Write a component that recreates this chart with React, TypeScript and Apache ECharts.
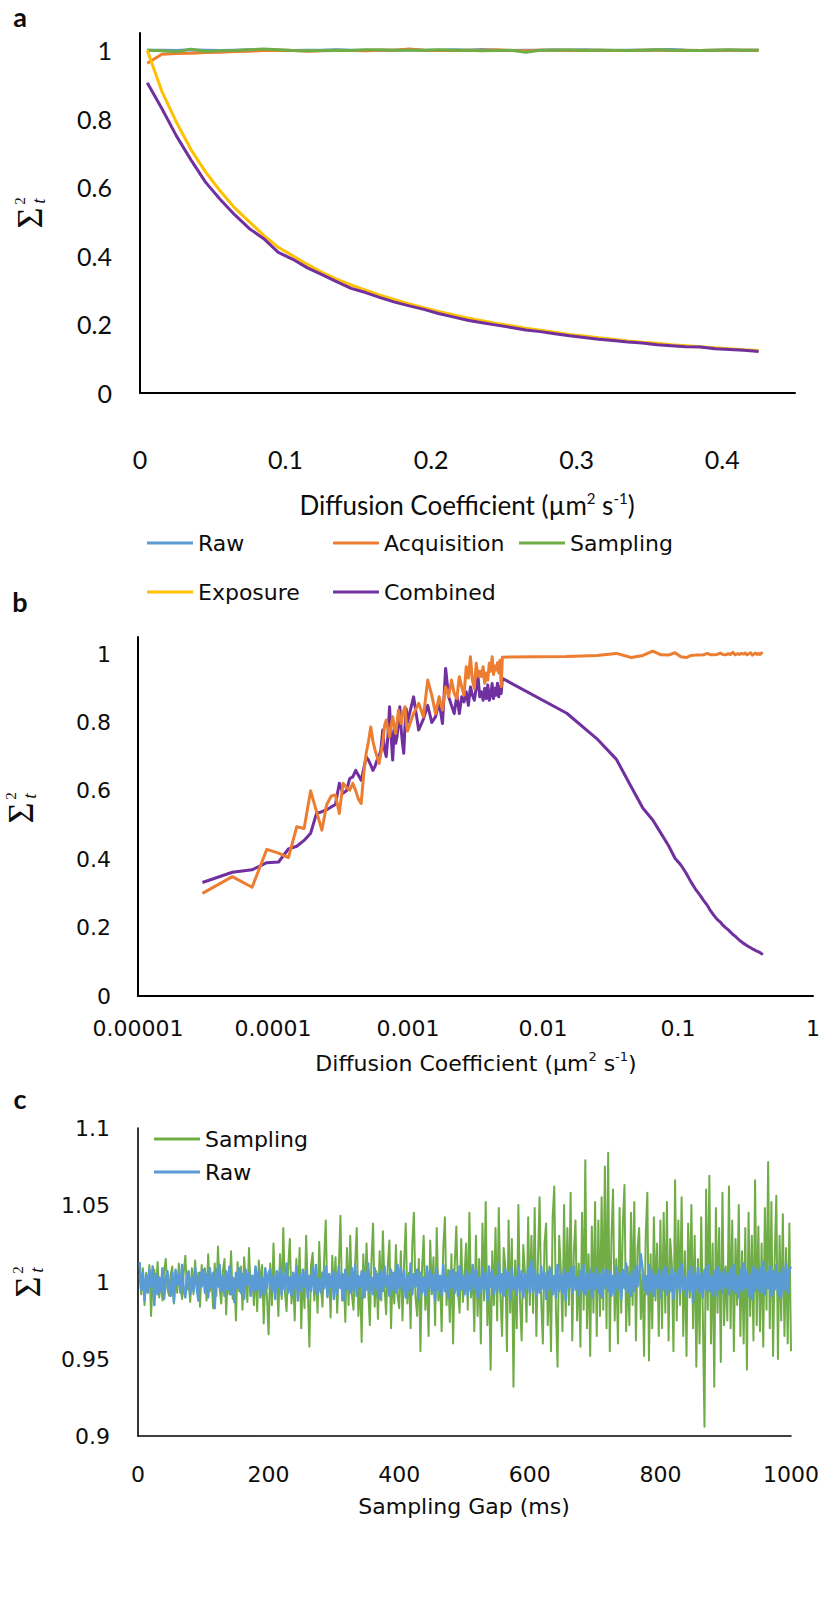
import React, { useEffect, useRef } from "react";
import * as echarts from "echarts";

// ---------------- Panel a ----------------
const DIFF_A = [0.005, 0.015, 0.025, 0.035, 0.045, 0.055, 0.065, 0.075, 0.085, 0.095, 0.105, 0.115, 0.125, 0.135, 0.145, 0.155, 0.165, 0.175, 0.185, 0.195, 0.205, 0.215, 0.225, 0.235, 0.245, 0.255, 0.265, 0.275, 0.285, 0.295, 0.305, 0.315, 0.325, 0.335, 0.345, 0.355, 0.365, 0.375, 0.385, 0.395, 0.405, 0.415, 0.425];
const RAW_A = [1.000, 1.000, 0.999, 1.001, 1.000, 0.999, 1.000, 1.001, 1.000, 1.000, 0.999, 1.000, 1.000, 1.001, 1.000, 1.000, 0.999, 1.000, 1.001, 1.000, 1.000, 1.001, 1.000, 1.002, 1.000, 0.999, 1.000, 1.000, 1.001, 1.000, 1.001, 1.000, 0.999, 1.000, 1.000, 1.001, 1.002, 1.000, 0.999, 1.000, 1.000, 1.000, 1.000];
const ACQ_A = [0.962, 0.988, 0.990, 0.991, 0.993, 0.994, 0.996, 0.997, 0.999, 1.000, 0.999, 0.997, 0.998, 0.999, 0.999, 0.998, 1.000, 1.000, 1.003, 1.000, 0.999, 0.999, 1.000, 1.000, 1.001, 0.999, 0.998, 1.000, 1.000, 0.999, 1.000, 1.000, 0.999, 0.999, 1.000, 1.000, 0.999, 1.000, 0.999, 1.000, 1.000, 1.000, 1.000];
const SAMP_A = [1.000, 0.998, 0.995, 1.003, 0.996, 0.998, 0.999, 1.001, 1.003, 1.001, 0.999, 0.998, 0.999, 1.000, 0.999, 1.001, 1.001, 1.000, 1.000, 1.000, 1.001, 1.000, 1.000, 0.998, 0.999, 1.000, 0.994, 1.000, 1.000, 1.001, 0.999, 1.000, 1.000, 0.999, 1.000, 1.001, 1.000, 0.999, 0.999, 1.000, 1.001, 1.000, 1.000];
const EXPO_A = [1.000, 0.880, 0.790, 0.710, 0.645, 0.590, 0.540, 0.500, 0.460, 0.425, 0.400, 0.375, 0.352, 0.332, 0.315, 0.300, 0.285, 0.272, 0.260, 0.249, 0.238, 0.228, 0.219, 0.211, 0.203, 0.196, 0.189, 0.183, 0.177, 0.171, 0.166, 0.161, 0.157, 0.152, 0.148, 0.145, 0.141, 0.138, 0.135, 0.132, 0.129, 0.126, 0.124];
const COMB_A = [0.905, 0.830, 0.750, 0.680, 0.615, 0.565, 0.520, 0.480, 0.450, 0.410, 0.390, 0.365, 0.345, 0.325, 0.305, 0.293, 0.278, 0.265, 0.254, 0.244, 0.232, 0.222, 0.212, 0.205, 0.198, 0.191, 0.184, 0.179, 0.173, 0.167, 0.162, 0.157, 0.153, 0.149, 0.146, 0.141, 0.138, 0.135, 0.134, 0.129, 0.127, 0.125, 0.121];

// ---------------- Panel b ----------------
const DIFF_B_LOW = [0.00003, 0.00005, 0.00007, 0.00009, 0.00011, 0.00013, 0.00015, 0.00017, 0.00019, 0.00021, 0.00023, 0.00025, 0.00027, 0.00029, 0.00031, 0.00033, 0.00035, 0.00037, 0.00039, 0.00041, 0.00043, 0.00045, 0.00047, 0.00049, 0.00051, 0.00053, 0.00055, 0.00057, 0.00059, 0.00061, 0.00063, 0.00065, 0.00067, 0.00069, 0.00071, 0.00073, 0.00075, 0.00077, 0.00079, 0.00081, 0.00083, 0.00085, 0.00087, 0.00089, 0.00091, 0.00093, 0.00095, 0.00097, 0.00099,
  0.0011, 0.0012, 0.0013, 0.0014, 0.0015, 0.0016, 0.0017, 0.0018, 0.0019, 0.0020, 0.0021, 0.0022, 0.0023, 0.0024, 0.0025, 0.0026, 0.0027, 0.0028, 0.0029, 0.0030, 0.0031, 0.0032, 0.0033, 0.0034, 0.0035, 0.0036, 0.0037, 0.0038, 0.0039, 0.0040, 0.0041, 0.0042, 0.0043, 0.0044, 0.0045, 0.0046, 0.0047, 0.0048, 0.0049];
const DIFF_B_HIGH = [0.005, 0.015, 0.025, 0.035, 0.045, 0.055, 0.065, 0.075, 0.085, 0.095, 0.105, 0.115, 0.125, 0.135, 0.145, 0.155, 0.165, 0.175, 0.185, 0.195, 0.205, 0.215, 0.225, 0.235, 0.245, 0.255, 0.265, 0.275, 0.285, 0.295, 0.305, 0.315, 0.325, 0.335, 0.345, 0.355, 0.365, 0.375, 0.385, 0.395, 0.405, 0.415, 0.425];
const ACQ_B_LOW = [0.300, 0.349, 0.318, 0.429, 0.418, 0.405, 0.495, 0.490, 0.600, 0.540,
  0.485, 0.560, 0.585, 0.588, 0.534, 0.622, 0.610, 0.602, 0.622, 0.600,
  0.575, 0.563, 0.650, 0.709, 0.745, 0.787, 0.745, 0.719, 0.700, 0.680,
  0.710, 0.739, 0.790, 0.807, 0.780, 0.758, 0.790, 0.817, 0.790, 0.768,
  0.800, 0.836, 0.815, 0.797, 0.820, 0.835, 0.846, 0.800, 0.775, 0.826,
  0.856, 0.817, 0.924, 0.880, 0.826, 0.875, 0.836, 0.904, 0.875, 0.924,
  0.885, 0.870, 0.934, 0.904, 0.880, 0.963, 0.930, 0.992, 0.924, 0.900,
  0.973, 0.935, 0.950, 0.934, 0.963, 0.915, 0.945, 0.924, 0.973, 0.950,
  0.992, 0.940, 0.965, 0.953, 0.975, 0.945, 0.982, 0.905];
const ACQ_B_HIGH = [0.991, 0.993, 0.996, 1.002, 0.990, 0.996, 1.009, 0.998, 0.997, 1.004, 0.992, 0.990, 0.996, 0.997, 0.997, 0.998, 1.002, 0.998, 0.998, 0.999, 1.003, 0.999, 0.998, 1.001, 0.999, 1.005, 0.998, 1.001, 0.999, 1.002, 1.000, 1.003, 0.998, 1.001, 1.004, 0.997, 1.000, 1.003, 0.999, 1.002, 0.999, 1.003, 1.002];
const COMB_B_LOW = [0.332, 0.362, 0.369, 0.390, 0.392, 0.430, 0.438, 0.455, 0.476, 0.534,
  0.539, 0.545, 0.553, 0.560, 0.622, 0.593, 0.600, 0.636, 0.641, 0.660,
  0.645, 0.631, 0.665, 0.699, 0.690, 0.675, 0.660, 0.672, 0.690, 0.700,
  0.720, 0.778, 0.720, 0.700, 0.760, 0.846, 0.760, 0.690, 0.778, 0.739,
  0.760, 0.800, 0.846, 0.780, 0.740, 0.710, 0.790, 0.840, 0.800, 0.875,
  0.778, 0.810, 0.850, 0.800, 0.817, 0.860, 0.797, 0.958, 0.875, 0.850,
  0.826, 0.880, 0.826, 0.875, 0.860, 0.890, 0.850, 0.904, 0.880, 0.865,
  0.900, 0.934, 0.875, 0.890, 0.865, 0.900, 0.870, 0.910, 0.865, 0.880,
  0.914, 0.870, 0.900, 0.880, 0.915, 0.875, 0.905, 0.885];
const COMB_B_HIGH = [0.929, 0.827, 0.753, 0.692, 0.612, 0.549, 0.515, 0.475, 0.440, 0.403, 0.383, 0.359, 0.333, 0.312, 0.296, 0.279, 0.265, 0.248, 0.235, 0.224, 0.217, 0.207, 0.200, 0.194, 0.187, 0.180, 0.175, 0.169, 0.163, 0.159, 0.154, 0.151, 0.147, 0.144, 0.141, 0.138, 0.136, 0.133, 0.131, 0.129, 0.127, 0.124, 0.121];
const LOG_TICK_LABELS = ["0.00001", "0.0001", "0.001", "0.01", "0.1", "1"];

// ---------------- Panel c ----------------
const GAP_MS = [2.5, 5, 7.5, 10, 12.5, 15, 17.5, 20, 22.5, 25, 27.5, 30, 32.5, 35, 37.5, 40, 42.5, 45, 47.5, 50, 52.5, 55, 57.5, 60, 62.5, 65, 67.5, 70, 72.5, 75, 77.5, 80, 82.5, 85, 87.5, 90, 92.5, 95, 97.5, 100,
  102.5, 105, 107.5, 110, 112.5, 115, 117.5, 120, 122.5, 125, 127.5, 130, 132.5, 135, 137.5, 140, 142.5, 145, 147.5, 150, 152.5, 155, 157.5, 160, 162.5, 165, 167.5, 170, 172.5, 175, 177.5, 180, 182.5, 185, 187.5, 190, 192.5, 195, 197.5, 200,
  202.5, 205, 207.5, 210, 212.5, 215, 217.5, 220, 222.5, 225, 227.5, 230, 232.5, 235, 237.5, 240, 242.5, 245, 247.5, 250, 252.5, 255, 257.5, 260, 262.5, 265, 267.5, 270, 272.5, 275, 277.5, 280, 282.5, 285, 287.5, 290, 292.5, 295, 297.5, 300,
  302.5, 305, 307.5, 310, 312.5, 315, 317.5, 320, 322.5, 325, 327.5, 330, 332.5, 335, 337.5, 340, 342.5, 345, 347.5, 350, 352.5, 355, 357.5, 360, 362.5, 365, 367.5, 370, 372.5, 375, 377.5, 380, 382.5, 385, 387.5, 390, 392.5, 395, 397.5, 400,
  402.5, 405, 407.5, 410, 412.5, 415, 417.5, 420, 422.5, 425, 427.5, 430, 432.5, 435, 437.5, 440, 442.5, 445, 447.5, 450, 452.5, 455, 457.5, 460, 462.5, 465, 467.5, 470, 472.5, 475, 477.5, 480, 482.5, 485, 487.5, 490, 492.5, 495, 497.5, 500,
  502.5, 505, 507.5, 510, 512.5, 515, 517.5, 520, 522.5, 525, 527.5, 530, 532.5, 535, 537.5, 540, 542.5, 545, 547.5, 550, 552.5, 555, 557.5, 560, 562.5, 565, 567.5, 570, 572.5, 575, 577.5, 580, 582.5, 585, 587.5, 590, 592.5, 595, 597.5, 600,
  602.5, 605, 607.5, 610, 612.5, 615, 617.5, 620, 622.5, 625, 627.5, 630, 632.5, 635, 637.5, 640, 642.5, 645, 647.5, 650, 652.5, 655, 657.5, 660, 662.5, 665, 667.5, 670, 672.5, 675, 677.5, 680, 682.5, 685, 687.5, 690, 692.5, 695, 697.5, 700,
  702.5, 705, 707.5, 710, 712.5, 715, 717.5, 720, 722.5, 725, 727.5, 730, 732.5, 735, 737.5, 740, 742.5, 745, 747.5, 750, 752.5, 755, 757.5, 760, 762.5, 765, 767.5, 770, 772.5, 775, 777.5, 780, 782.5, 785, 787.5, 790, 792.5, 795, 797.5, 800,
  802.5, 805, 807.5, 810, 812.5, 815, 817.5, 820, 822.5, 825, 827.5, 830, 832.5, 835, 837.5, 840, 842.5, 845, 847.5, 850, 852.5, 855, 857.5, 860, 862.5, 865, 867.5, 870, 872.5, 875, 877.5, 880, 882.5, 885, 887.5, 890, 892.5, 895, 897.5, 900,
  902.5, 905, 907.5, 910, 912.5, 915, 917.5, 920, 922.5, 925, 927.5, 930, 932.5, 935, 937.5, 940, 942.5, 945, 947.5, 950, 952.5, 955, 957.5, 960, 962.5, 965, 967.5, 970, 972.5, 975, 977.5, 980, 982.5, 985, 987.5, 990, 992.5, 995, 997.5, 1000];
const SAMP_C = [
  1.004, 0.992, 1.009, 0.985, 1.006, 0.997, 1.011, 0.978, 1.002, 1.008, 0.994, 1.013, 0.990, 1.001, 0.988, 1.007, 1.015, 0.996, 0.991, 1.005, 1.010, 0.986, 1.003, 0.993, 1.012, 0.998, 0.989, 1.006, 1.017, 0.995, 1.000, 0.987, 1.009, 0.992, 1.014, 0.997, 1.006, 0.984, 1.011, 0.999,
  1.009, 0.988, 1.018, 0.994, 1.003, 0.983, 1.012, 0.991, 1.023, 0.996, 0.986, 1.007, 1.015, 0.979, 1.005, 0.992, 1.020, 0.989, 1.002, 0.975, 1.013, 0.994, 1.010, 0.982, 1.016, 1.001, 0.987, 1.022, 0.993, 1.004, 0.985, 1.009, 0.981, 1.014, 0.997, 1.011, 0.973, 1.006, 0.990, 0.966,
  1.012, 0.985, 1.025, 0.992, 1.004, 0.978, 1.018, 0.989, 1.035, 0.994, 0.981, 1.010, 1.028, 0.986, 1.003, 0.975, 1.015, 0.991, 1.022, 0.970, 1.008, 0.983, 1.030, 0.995, 0.958, 1.011, 1.019, 0.988, 1.006, 0.980, 1.026, 0.997, 0.984, 1.014, 1.040, 0.990, 1.005, 0.977, 1.017, 0.993,
  1.016, 0.980, 1.009, 1.043, 0.988, 1.005, 0.974, 1.022, 0.985, 1.030, 0.992, 0.982, 1.012, 1.035, 0.978, 1.003, 0.961, 1.018, 0.990, 1.025, 0.995, 0.972, 1.014, 1.038, 0.984, 1.007, 0.976, 1.020, 0.988, 1.033, 0.997, 0.979, 1.010, 1.027, 0.970, 1.006, 0.986, 1.024, 0.991, 0.983,
  1.020, 0.975, 1.012, 1.038, 0.986, 1.006, 0.970, 1.024, 1.045, 0.990, 0.978, 1.015, 0.955, 1.009, 1.030, 0.982, 1.004, 0.965, 1.027, 0.992, 1.016, 0.972, 1.035, 0.988, 1.002, 0.968, 1.022, 1.042, 0.985, 1.008, 0.974, 1.018, 0.960, 1.011, 1.036, 0.994, 0.980, 1.028, 0.987, 1.005,
  1.025, 0.982, 1.045, 0.990, 1.008, 0.968, 1.030, 0.978, 1.015, 0.960, 1.038, 0.988, 1.052, 0.972, 1.005, 0.943, 1.020, 0.985, 1.035, 0.975, 1.048, 0.992, 0.965, 1.022, 1.010, 0.955, 1.040, 0.980, 1.028, 0.932, 1.014, 0.970, 1.050, 0.988, 0.962, 1.024, 1.006, 0.974, 1.042, 0.985,
  1.030, 0.980, 1.048, 0.965, 1.015, 1.055, 0.988, 0.960, 1.025, 1.038, 0.972, 1.010, 0.955, 1.042, 1.062, 0.982, 0.945, 1.030, 1.008, 0.968, 1.050, 0.978, 1.035, 0.985, 1.058, 0.962, 1.020, 1.040, 0.975, 1.012, 0.958, 1.045, 0.982, 1.079, 0.970, 1.018, 0.952, 1.036, 0.980, 1.052,
  0.965, 1.040, 0.978, 1.055, 0.982, 1.075, 0.970, 1.084, 0.955, 1.028, 1.060, 0.975, 1.015, 0.960, 1.048, 0.980, 1.038, 1.063, 0.968, 1.010, 0.972, 1.045, 0.985, 1.052, 0.962, 1.022, 1.035, 0.976, 1.005, 0.952, 1.030, 1.058, 0.949, 1.018, 0.970, 1.042, 0.988, 1.025, 0.965, 1.040,
  0.970, 1.045, 0.980, 1.052, 0.962, 1.028, 1.012, 0.955, 1.066, 0.975, 1.040, 0.985, 1.055, 0.965, 1.020, 0.952, 1.038, 0.990, 1.050, 0.970, 1.030, 0.945, 1.015, 0.960, 1.042, 0.978, 0.906, 1.060, 0.982, 1.069, 0.960, 1.025, 0.932, 1.048, 0.980, 1.035, 0.948, 1.058, 0.972, 1.010,
  0.975, 1.062, 0.970, 1.040, 0.955, 1.028, 0.985, 1.050, 0.965, 1.020, 0.960, 1.035, 0.943, 1.045, 0.978, 1.030, 0.962, 1.066, 0.972, 1.036, 0.968, 1.025, 0.958, 1.048, 0.982, 1.078, 0.970, 1.052, 0.952, 1.015, 1.056, 0.950, 1.030, 0.975, 1.044, 0.965, 1.022, 0.960, 1.038, 0.955];
const RAW_C = [
  1.013, 0.995, 1.006, 0.988, 1.004, 0.993, 1.008, 0.997, 1.010, 0.985, 1.005, 0.992, 1.003, 0.994, 1.009, 0.989, 1.002, 1.007, 0.996, 0.991, 1.006, 0.987, 1.008, 0.998, 1.005, 0.993, 1.011, 0.995, 0.990, 1.004, 1.007, 0.992, 1.003, 0.994, 1.009, 0.996, 0.988, 1.006, 0.997, 1.008,
  0.993, 1.005, 0.990, 1.009, 0.996, 1.006, 0.983, 1.008, 0.997, 1.011, 0.994, 1.004, 0.991, 1.007, 0.995, 1.010, 0.992, 1.003, 0.987, 1.006, 0.996, 1.009, 0.993, 1.005, 0.989, 1.008, 0.998, 1.006, 0.991, 1.004, 0.994, 1.010, 0.995, 1.007, 0.990, 1.003, 0.992, 1.009, 0.996, 1.006,
  1.008, 0.994, 1.004, 0.989, 1.007, 0.997, 1.009, 0.992, 1.005, 0.995, 1.012, 0.993, 1.003, 0.991, 1.006, 0.996, 1.010, 0.988, 1.005, 0.994, 1.008, 0.997, 1.007, 0.990, 1.004, 0.994, 1.009, 0.995, 1.011, 0.992, 1.002, 0.993, 1.006, 0.996, 1.010, 0.991, 1.005, 0.997, 1.007, 0.989,
  1.006, 0.992, 1.010, 0.996, 1.005, 0.988, 1.008, 0.995, 1.003, 0.993, 1.009, 0.994, 1.011, 0.991, 1.004, 0.997, 1.007, 0.990, 1.006, 0.995, 1.012, 0.993, 1.003, 0.992, 1.009, 0.996, 1.005, 0.989, 1.007, 0.994, 1.010, 0.997, 1.004, 0.991, 1.008, 0.995, 1.006, 0.993, 1.011, 0.996,
  1.009, 0.995, 1.007, 0.990, 1.004, 0.994, 1.012, 0.992, 1.005, 0.997, 1.008, 0.989, 1.006, 0.993, 1.003, 0.991, 1.010, 0.996, 1.007, 0.994, 1.005, 0.988, 1.009, 0.995, 1.004, 0.992, 1.011, 0.994, 1.003, 0.990, 1.007, 0.996, 1.008, 0.993, 1.006, 0.991, 1.010, 0.995, 1.004, 0.992,
  1.007, 0.991, 1.005, 0.994, 1.011, 0.996, 1.008, 0.990, 1.003, 0.993, 1.009, 0.995, 1.006, 0.988, 1.010, 0.997, 1.007, 0.992, 1.004, 0.994, 1.012, 0.993, 1.005, 0.991, 1.008, 0.996, 1.006, 0.989, 1.009, 0.995, 1.003, 0.992, 1.010, 0.994, 1.007, 0.990, 1.005, 0.996, 1.009, 0.993,
  1.014, 0.994, 1.008, 0.991, 1.005, 0.993, 1.010, 0.996, 1.006, 0.989, 1.007, 0.995, 1.009, 0.992, 1.004, 0.990, 1.011, 0.994, 1.005, 0.993, 1.008, 0.988, 1.006, 0.996, 1.009, 0.993, 1.010, 0.995, 1.003, 0.991, 1.007, 0.994, 1.011, 0.992, 1.005, 0.996, 1.008, 0.990, 1.006, 0.995,
  1.009, 0.993, 1.005, 0.990, 1.008, 0.996, 1.008, 0.994, 1.007, 0.991, 1.004, 0.992, 1.010, 0.995, 1.006, 0.989, 1.008, 0.996, 1.012, 0.993, 1.005, 0.991, 1.007, 0.994, 1.010, 0.997, 1.006, 1.018, 1.009, 0.995, 1.004, 0.992, 1.011, 0.994, 1.007, 0.991, 1.005, 0.996, 1.008, 0.990,
  1.007, 0.995, 1.010, 0.992, 1.004, 0.994, 1.009, 0.989, 1.006, 0.996, 1.008, 0.993, 1.012, 0.995, 1.003, 0.991, 1.007, 0.994, 1.010, 0.987, 1.005, 0.996, 1.009, 0.993, 1.006, 0.990, 1.008, 0.995, 1.011, 0.994, 1.004, 0.992, 1.007, 0.991, 1.010, 0.995, 1.006, 0.993, 1.008, 0.996,
  1.006, 0.992, 1.009, 0.995, 1.011, 0.993, 1.004, 0.990, 1.008, 0.994, 1.012, 0.996, 1.007, 0.991, 1.005, 0.989, 1.010, 0.994, 1.008, 0.995, 1.009, 0.993, 1.013, 0.992, 1.006, 0.996, 1.010, 0.991, 1.007, 0.995, 1.011, 0.992, 1.006, 0.990, 1.009, 0.995, 1.012, 0.993, 1.008, 1.010];

// ---------------- styling ----------------
const C_RAW = "#5B9BD5";
const C_ACQ = "#ED7D31";
const C_SAMP = "#70AD47";
const C_EXPO = "#FFC000";
const C_COMB = "#7030A0";
const TXT = "#0d0d0d";
const FONT_A = 'Lato, "Open Sans", sans-serif';
const FONT_BC = '"DejaVu Sans", Verdana, sans-serif';
const SERIF = '"Liberation Serif", "DejaVu Serif", serif';

function pairs(xs: number[], ys: number[]) {
  return xs.map((x, i) => [x, ys[i]]);
}

function fmt(v: number, d: number) {
  return String(parseFloat(v.toFixed(d)));
}

function line(name: string, color: string, idx: number, data: number[][], width: number) {
  return {
    type: "line",
    name,
    xAxisIndex: idx,
    yAxisIndex: idx,
    data,
    color,
    symbol: "none",
    showSymbol: false,
    silent: true,
    lineStyle: { color, width, join: "round" },
    emphasis: { disabled: true },
  };
}

function sigma(cx: number, cy: number) {
  const rot = Math.PI / 2;
  return [
    { type: "text", x: cx, y: cy, rotation: rot, style: { text: "Σ", fontFamily: SERIF, fontSize: 36, fill: TXT, align: "center", verticalAlign: "middle" } },
    { type: "text", x: cx - 10, y: cy - 17, rotation: rot, style: { text: "2", fontFamily: SERIF, fontSize: 15, fill: TXT, align: "center", verticalAlign: "middle" } },
    { type: "text", x: cx + 8, y: cy - 17, rotation: rot, style: { text: "t", fontFamily: SERIF, fontStyle: "italic", fontSize: 19, fill: TXT, align: "center", verticalAlign: "middle" } },
  ];
}

function axisTitle(x: number, y: number, font: string, size: number, sup: number) {
  return {
    type: "text",
    x,
    y,
    style: {
      text: "{a|Diffusion Coefficient (µm}{s|2}{a| s}{s|-1}{a|)}",
      align: "center",
      verticalAlign: "middle",
      fill: TXT,
      rich: {
        a: { fontFamily: font, fontSize: size, lineHeight: size + 4, fill: TXT },
        s: { fontFamily: font, fontSize: sup, lineHeight: sup, verticalAlign: "top", fill: TXT },
      },
    },
  };
}

const axisLine = (w: number) => ({ show: true, onZero: false, lineStyle: { color: "#000", width: w } });

const legendBase = {
  orient: "horizontal",
  icon: "rect",
  itemWidth: 46,
  itemHeight: 3,
  padding: 0,
  selectedMode: false,
  itemStyle: { borderWidth: 0 },
  textStyle: { fontFamily: FONT_BC, fontSize: 22, color: TXT },
};

const option = {
  animation: false,
  backgroundColor: "#ffffff",
  grid: [
    { left: 140, top: 33, width: 655, height: 360, outerBoundsMode: "none" },
    { left: 138, top: 637, width: 675, height: 359, outerBoundsMode: "none" },
    { left: 138, top: 1128, width: 653, height: 308, outerBoundsMode: "none" },
  ],
  legend: [
    { ...legendBase, data: ["Raw"], left: 147, top: 532 },
    { ...legendBase, data: ["Acquisition"], left: 333, top: 532 },
    { ...legendBase, data: ["Sampling"], left: 519, top: 532 },
    { ...legendBase, data: ["Exposure"], left: 147, top: 581 },
    { ...legendBase, data: ["Combined"], left: 333, top: 581 },
    { ...legendBase, data: ["Sampling"], left: 154, top: 1128 },
    { ...legendBase, data: ["Raw"], left: 154, top: 1161 },
  ],
  xAxis: [
    {
      gridIndex: 0, type: "value", min: 0, max: 0.45, interval: 0.1,
      axisLine: axisLine(2), axisTick: { show: false }, splitLine: { show: false },
      axisLabel: { fontFamily: FONT_A, fontSize: 25, color: TXT, margin: 53, showMaxLabel: false, formatter: (v: number) => fmt(v, 2) },
    },
    {
      gridIndex: 1, type: "log", logBase: 10, min: 0.00001, max: 1,
      axisLine: axisLine(2), axisTick: { show: false }, minorTick: { show: false }, splitLine: { show: false }, minorSplitLine: { show: false },
      axisLabel: { fontFamily: FONT_BC, fontSize: 22, color: TXT, margin: 21, formatter: (v: number) => LOG_TICK_LABELS[Math.round(Math.log10(v)) + 5] ?? "" },
    },
    {
      gridIndex: 2, type: "value", min: 0, max: 1000, interval: 200,
      axisLine: axisLine(1.6), axisTick: { show: false }, splitLine: { show: false },
      axisLabel: { fontFamily: FONT_BC, fontSize: 22, color: TXT, margin: 27, formatter: (v: number) => String(v) },
    },
  ],
  yAxis: [
    {
      gridIndex: 0, type: "value", min: 0, max: 1.05, interval: 0.2,
      axisLine: axisLine(2), axisTick: { show: false }, splitLine: { show: false },
      axisLabel: { fontFamily: FONT_A, fontSize: 25, color: TXT, margin: 28, showMaxLabel: false, formatter: (v: number) => fmt(v, 1) },
    },
    {
      gridIndex: 1, type: "value", min: 0, max: 1.05, interval: 0.2,
      axisLine: axisLine(2), axisTick: { show: false }, splitLine: { show: false },
      axisLabel: { fontFamily: FONT_BC, fontSize: 22, color: TXT, margin: 27, showMaxLabel: false, formatter: (v: number) => fmt(v, 1) },
    },
    {
      gridIndex: 2, type: "value", min: 0.9, max: 1.1, interval: 0.05,
      axisLine: axisLine(1.6), axisTick: { show: false }, splitLine: { show: false },
      axisLabel: { fontFamily: FONT_BC, fontSize: 22, color: TXT, margin: 28, formatter: (v: number) => fmt(v, 2) },
    },
  ],
  series: [
    line("Raw", C_RAW, 0, pairs(DIFF_A, RAW_A), 3),
    line("Acquisition", C_ACQ, 0, pairs(DIFF_A, ACQ_A), 3),
    line("Sampling", C_SAMP, 0, pairs(DIFF_A, SAMP_A), 3),
    line("Exposure", C_EXPO, 0, pairs(DIFF_A, EXPO_A), 3),
    line("Combined", C_COMB, 0, pairs(DIFF_A, COMB_A), 3),
    line("Combined", C_COMB, 1, pairs([...DIFF_B_LOW, ...DIFF_B_HIGH], [...COMB_B_LOW, ...COMB_B_HIGH]), 3),
    line("Acquisition", C_ACQ, 1, pairs([...DIFF_B_LOW, ...DIFF_B_HIGH], [...ACQ_B_LOW, ...ACQ_B_HIGH]), 3),
    line("Sampling", C_SAMP, 2, pairs(GAP_MS, SAMP_C), 2),
    line("Raw", C_RAW, 2, pairs(GAP_MS, RAW_C), 2.5),
  ],
  graphic: [
    { type: "text", x: 20, y: 16, style: { text: "a", fontFamily: FONT_A, fontWeight: "bold", fontSize: 27, fill: TXT, align: "center", verticalAlign: "middle" } },
    { type: "text", x: 20, y: 601, style: { text: "b", fontFamily: FONT_A, fontWeight: "bold", fontSize: 27, fill: TXT, align: "center", verticalAlign: "middle" } },
    { type: "text", x: 20, y: 1098, style: { text: "c", fontFamily: FONT_A, fontWeight: "bold", fontSize: 27, fill: TXT, align: "center", verticalAlign: "middle" } },
    ...sigma(30, 218),
    ...sigma(21, 813),
    ...sigma(28, 1287),
    axisTitle(467, 505, FONT_A, 26, 15),
    axisTitle(476, 1063, FONT_BC, 22, 13),
    { type: "text", x: 464, y: 1506, style: { text: "Sampling Gap (ms)", fontFamily: FONT_BC, fontSize: 22, fill: TXT, align: "center", verticalAlign: "middle" } },
  ],
};

export default function App() {
  const ref = useRef<HTMLDivElement>(null);
  useEffect(() => {
    if (!ref.current) return;
    const chart = echarts.init(ref.current, null, { renderer: "svg" });
    chart.setOption(option as any);
    return () => chart.dispose();
  }, []);
  return <div ref={ref} style={{ position: "absolute", left: 0, top: 0, width: 822, height: 1611 }} />;
}
